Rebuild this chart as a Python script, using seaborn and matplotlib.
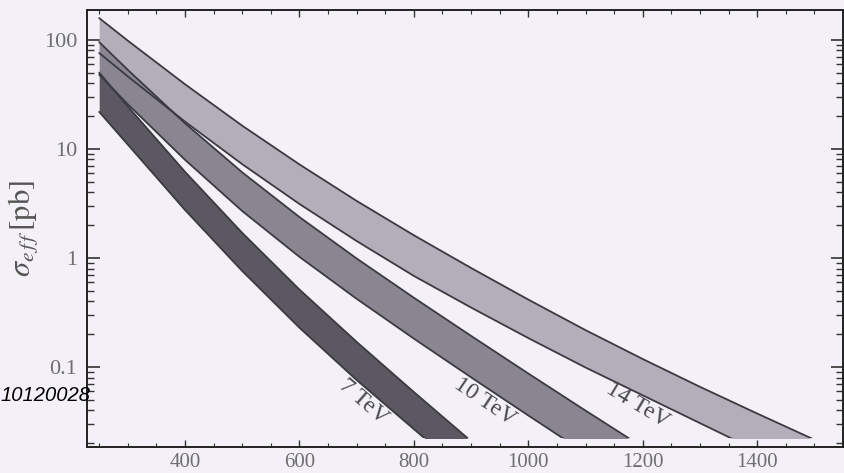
import numpy as np
import pandas as pd
import matplotlib
matplotlib.use("Agg")
import matplotlib.pyplot as plt
import seaborn as sns
from matplotlib.patches import Rectangle
from matplotlib.ticker import FixedLocator, LogLocator, NullFormatter, MultipleLocator

# ---------------- data (log10 of sigma in pb) ----------------
mass_14 = [250, 300, 400, 500, 600, 700, 800, 900, 1000, 1100, 1200, 1300, 1400, 1500]
up_14 = [2.20, 1.993, 1.593, 1.213, 0.858, 0.523, 0.208, -0.092, -0.382, -0.662, -0.927, -1.182, -1.427, -1.667]
lo_14 = [1.88, 1.665, 1.25, 0.86, 0.495, 0.155, -0.165, -0.455, -0.735, -1.005, -1.26, -1.515, -1.77, -2.02]

mass_10 = [250, 300, 400, 500, 600, 700, 800, 900, 1000, 1100, 1200]
up_10 = [1.98, 1.725, 1.235, 0.785, 0.375, -0.005, -0.365, -0.715, -1.06, -1.40, -1.735]
lo_10 = [1.68, 1.41, 0.90, 0.43, 0.01, -0.375, -0.74, -1.095, -1.445, -1.79, -2.13]

mass_7 = [250, 300, 400, 500, 600, 700, 800, 900]
up_7 = [1.70, 1.39, 0.79, 0.23, -0.29, -0.77, -1.23, -1.68]
lo_7 = [1.34, 1.04, 0.44, -0.12, -0.64, -1.12, -1.57, -2.02]

energies = ["14 TeV", "10 TeV", "7 TeV"]
label_pos_mass = [1192, 924, 711]
label_pos_sigma = [0.045, 0.048, 0.048]
label_rot = [-31, -34, -41]

xticks = [400, 600, 800, 1000, 1200, 1400]
yticks = [0.1, 1, 10, 100]
ytick_labels = ["0.1", "1", "10", "100"]

# ---------------- styling ----------------
sns.set_theme(style="ticks")
plt.rcParams["font.family"] = ["Liberation Serif", "DejaVu Serif"]
plt.rcParams["mathtext.fontset"] = "stix"

bg = "#f3f0f7"
band_colors = {"14 TeV": "#b3aeb9", "10 TeV": "#8a8691", "7 TeV": "#5b5862"}
edge_color = "#3b3a40"

fig = plt.figure(figsize=(8.44, 4.73), dpi=100, facecolor=bg)
ax = fig.add_axes([87 / 844, 26 / 473, 756 / 844, 437 / 473])
ax.set_facecolor(bg)
ax.set_yscale("log")
ax.set_xlim(228.7, 1550)
ax.set_ylim(0.01845, 188)

# long table of the band edges
rows = []
for name, m, up, lo in [("14 TeV", mass_14, up_14, lo_14),
                        ("10 TeV", mass_10, up_10, lo_10),
                        ("7 TeV", mass_7, up_7, lo_7)]:
    for mi, u, l in zip(m, up, lo):
        rows.append({"energy": name, "mass": mi, "edge": "upper", "sigma": 10 ** u})
        rows.append({"energy": name, "mass": mi, "edge": "lower", "sigma": 10 ** l})
df = pd.DataFrame(rows)

clip_rect = Rectangle((228.7, 0.0223), 1400, 1000, transform=ax.transData,
                      facecolor="none", edgecolor="none")
ax.add_patch(clip_rect)

for name in energies:
    d = df[df.energy == name]
    u = d[d.edge == "upper"].sort_values("mass")
    l = d[d.edge == "lower"].sort_values("mass")
    poly = ax.fill_between(u["mass"].values, l["sigma"].values, u["sigma"].values,
                           color=band_colors[name], linewidth=0, zorder=2)
    poly.set_clip_path(clip_rect)
    before = set(ax.lines)
    sns.lineplot(data=d, x="mass", y="sigma", units="edge", estimator=None,
                 color=edge_color, linewidth=1.3, ax=ax, zorder=3, sort=True)
    for ln in ax.lines:
        if ln not in before:
            ln.set_clip_path(clip_rect)

for name, xm, ys, rot in zip(energies, label_pos_mass, label_pos_sigma, label_rot):
    ax.text(xm, ys, name, rotation=rot, rotation_mode="anchor", ha="center", va="center",
            fontsize=17, color="#4a4850", family=["Liberation Serif"], zorder=4)

# ticks
ax.set_xticks(xticks)
ax.xaxis.set_minor_locator(MultipleLocator(50))
ax.yaxis.set_major_locator(FixedLocator(yticks))
ax.set_yticklabels(ytick_labels)
ax.yaxis.set_minor_locator(LogLocator(base=10, subs=np.arange(2, 10), numticks=20))
ax.yaxis.set_minor_formatter(NullFormatter())
ax.tick_params(axis="both", which="both", direction="in", top=True, right=True,
               color="#333333")
ax.tick_params(axis="y", which="major", length=9, width=1.2, labelsize=16, labelcolor="#6e6e6e", pad=7)
ax.tick_params(axis="y", which="minor", length=5, width=1.0)
ax.tick_params(axis="x", which="major", length=5, width=1.0, labelsize=15, labelcolor="#6e6e6e", pad=4)
ax.tick_params(axis="x", which="minor", length=3, width=0.8)
for s in ax.spines.values():
    s.set_color("#222222")
    s.set_linewidth(1.4)

ax.set_xlabel("")
ax.set_ylabel(r"$\sigma_{e\,f\,f}\,[\mathrm{pb}]$", fontsize=22, color="#555555", labelpad=2)

fig.text(90 / 844, 1 - 395 / 473, "10120028", ha="right", va="center",
         fontsize=14.5, style="italic", family=["Liberation Sans", "DejaVu Sans"], color="black")

fig.savefig("out.png", dpi=100, facecolor=bg)
